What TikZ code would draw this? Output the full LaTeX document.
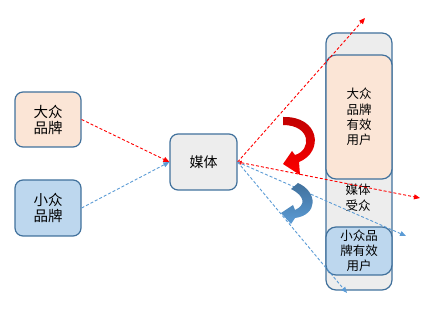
\documentclass[tikz,border=0pt]{standalone}
\usepackage{fontspec}
\setmainfont{Noto Sans CJK SC}
\usetikzlibrary{arrows.meta}
\definecolor{bordc}{HTML}{41719C}
\definecolor{orfill}{HTML}{FBE5D6}
\definecolor{blfill}{HTML}{BDD7EE}
\definecolor{grfill}{HTML}{EDEDED}
\definecolor{redln}{HTML}{FF0000}
\definecolor{bluln}{HTML}{5B9BD5}
\definecolor{darkred}{HTML}{C00000}
\definecolor{darkblue}{HTML}{41719C}
\definecolor{lightblue}{HTML}{5B9BD5}
\begin{document}
\begin{tikzpicture}[x=1pt,y=-1pt,
  box/.style={draw=bordc, line width=1.2pt, rounded corners=8pt, align=center,
    inner sep=0pt, font=\fontsize{14.5}{16}\selectfont},
  tallbox/.style={box, rounded corners=10pt, fill=grfill},
  reddash/.style={draw=redln, line width=0.9pt, dash pattern=on 3pt off 2pt,
    -{Triangle[length=6pt,width=5pt]}},
  bluedash/.style={draw=bluln, line width=0.9pt, dash pattern=on 3pt off 2pt,
    -{Triangle[length=6pt,width=5pt]}},
  lbl/.style={align=center, inner sep=0pt, font=\fontsize{12.5}{16}\selectfont}
]
\useasboundingbox (0,0) rectangle (431,312);

% left boxes
\node[box, fill=orfill, minimum width=66pt, minimum height=55pt] (big) at (48,119.5) {大众\\品牌};
\node[box, fill=blfill, minimum width=66pt, minimum height=56pt] (small) at (48,208) {小众\\品牌};
\node[box, fill=grfill, minimum width=67pt, minimum height=56pt, font=\fontsize{14}{16}\selectfont] (media) at (203.5,162) {媒体};

% right tall box
\node[tallbox, minimum width=66pt, minimum height=257pt] (aud) at (359,161.5) {};
\node[tallbox, fill=orfill, minimum width=66pt, minimum height=124pt, font=\fontsize{12.5}{15.3}\selectfont] (bigusers) at (359,117) {大众\\品牌\\有效\\用户};
\node[tallbox, fill=blfill, minimum width=66pt, minimum height=48pt, font=\fontsize{12.5}{14.8}\selectfont] (smallusers) at (359,251) {小众品\\牌有效\\用户};
\node[lbl] (audlbl) at (358,198) {媒体\\受众};

% free ends
\coordinate (r1) at (365,18);
\coordinate (r2) at (420,198);
\coordinate (b1) at (406,236);
\coordinate (b2) at (347,293);

% dashed connectors
\draw[reddash] (big.east) -- (media.west);
\draw[bluedash] (small.east) -- (media.west);
\draw[reddash] (media.east) -- (r1);
\draw[reddash, {Triangle[length=4pt,width=4pt]}-{Triangle[length=6pt,width=5pt]}] (media.east) -- (r2);
\draw[bluedash] (media.east) -- (b1);
\draw[bluedash] (media.east) -- (b2);

% curved red arrow
\shade[top color=darkred, bottom color=redln]
  (283,117) .. controls (320,116) and (324,152) .. (299,162)
  -- (300,175) -- (283,164) -- (292,151) -- (295,155)
  .. controls (312,150) and (311,125) .. (283,125) -- cycle;

% curved blue arrow
\shade[top color=darkblue, bottom color=lightblue]
  (298,183) .. controls (318,192) and (318,215) .. (295,218)
  -- (291,224) -- (281,213) -- (293,205) -- (295,210)
  .. controls (306,205) and (305,196) .. (291,189) -- cycle;
\end{tikzpicture}
\end{document}
